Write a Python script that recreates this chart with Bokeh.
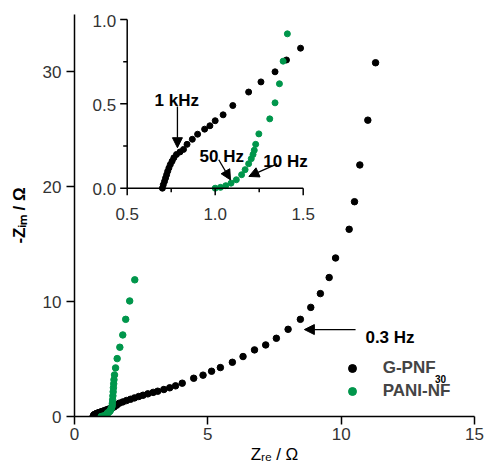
import math
from bokeh.plotting import figure
from bokeh.models import (Range1d, Label, Arrow, NormalHead, Legend, LegendItem,
                          ColumnDataSource, FixedTicker)
from bokeh.embed import file_html
from bokeh.resources import INLINE

# ---------------- data ----------------
gpnf_x = [0.70, 0.705, 0.712, 0.718, 0.724, 0.73, 0.737, 0.745, 0.755, 0.765, 0.78, 0.80,
          0.82, 0.84, 0.87, 0.90, 0.94, 0.97, 1.00, 1.045, 1.10, 1.19, 1.26, 1.34, 1.405,
          1.485, 1.58, 1.68, 1.81, 1.95, 2.10, 2.25, 2.41, 2.57, 2.75, 2.95, 3.12, 3.35,
          3.57, 3.79, 4.04, 4.47, 4.82, 5.14, 5.47, 5.92, 6.32, 6.75, 7.17, 7.57, 8.01,
          8.47, 8.86, 9.22, 9.55, 9.79, 10.30, 10.50, 10.70, 11.00, 11.29]
gpnf_y = [0.00, 0.02, 0.04, 0.06, 0.08, 0.10, 0.12, 0.14, 0.16, 0.18, 0.20, 0.215,
          0.23, 0.26, 0.29, 0.32, 0.35, 0.37, 0.40, 0.435, 0.49, 0.57, 0.63, 0.69, 0.76,
          0.83, 0.99, 1.16, 1.27, 1.39, 1.50, 1.62, 1.74, 1.85, 1.97, 2.10, 2.20, 2.35,
          2.50, 2.67, 2.90, 3.33, 3.60, 3.94, 4.26, 4.72, 5.22, 5.80, 6.23, 6.81, 7.59,
          8.46, 9.50, 10.70, 12.10, 13.80, 16.30, 18.70, 21.90, 25.80, 30.80]

pani_x = [1.00, 1.03, 1.06, 1.09, 1.12, 1.15, 1.17, 1.19, 1.205, 1.215, 1.222, 1.23,
          1.248, 1.31, 1.34, 1.365, 1.386, 1.41, 1.42, 1.43, 1.44, 1.45, 1.46, 1.47,
          1.48, 1.50, 1.54, 1.60, 1.70, 1.81, 1.92, 2.07, 2.26]
pani_y = [0.00, 0.005, 0.015, 0.03, 0.05, 0.08, 0.11, 0.145, 0.175, 0.20, 0.225, 0.26,
          0.322, 0.411, 0.506, 0.619, 0.753, 0.915, 1.15, 1.45, 1.80, 2.15, 2.50, 2.85,
          3.20, 3.62, 4.23, 5.04, 6.03, 7.10, 8.46, 10.06, 11.90]

series_names = ["G-PNF", "PANI-NF"]
series_colors = ["#000000", "#00964b"]

x_title = "Z\u1d63\u2091 / \u03a9"
y_title = "-Z\u1d62\u2098 / \u03a9"

main_xticks = [0, 5, 10, 15]
main_yticks = [0, 10, 20, 30]
inset_xticks = [0.5, 1.0, 1.5]
inset_yticks = [0.0, 0.5, 1.0]
inset_xminor = [0.75, 1.25]
inset_yminor = [0.25, 0.75]
inset_xtick_labels = ["0.5", "1.0", "1.5"]
inset_ytick_labels = ["0.0", "0.5", "1.0"]

# ---------------- layout ----------------
W, H = 485, 469
BL, BR, BT, BB = 74, 11, 14, 53
FW, FH = W - BL - BR, H - BT - BB

p = figure(width=W, height=H, output_backend="svg", toolbar_location=None,
           x_range=Range1d(0, 15), y_range=Range1d(0, 35),
           min_border_left=BL, min_border_right=BR, min_border_top=BT, min_border_bottom=BB)
p.outline_line_color = None
p.xgrid.visible = False
p.ygrid.visible = False
p.background_fill_color = "white"

p.xaxis.ticker = FixedTicker(ticks=main_xticks, minor_ticks=[])
p.yaxis.ticker = FixedTicker(ticks=main_yticks, minor_ticks=[])
for ax in (p.xaxis, p.yaxis):
    ax.axis_line_width = 1.5
    ax.major_tick_line_width = 1.5
    ax.major_tick_out = 8
    ax.major_tick_in = 0
    ax.minor_tick_out = 0
    ax.minor_tick_in = 0
    ax.major_label_text_font = "Liberation Sans"
    ax.major_label_text_font_size = "17px"
    ax.major_label_text_color = "#333333"
    ax.axis_label_text_font = "Liberation Sans"
    ax.axis_label_text_font_size = "17px"
    ax.axis_label_text_color = "black"
p.xaxis.major_label_standoff = 3
p.yaxis.major_label_standoff = 5
p.xaxis.axis_label = x_title
p.yaxis.axis_label = y_title
p.xaxis.axis_label_text_font_style = "normal"
p.yaxis.axis_label_text_font_style = "bold"
p.xaxis.axis_label_standoff = 2
p.yaxis.axis_label_standoff = 11

# inset placement (pixels inside the main frame)
IN_L, IN_R = 52.7, 228.7          # from frame left
IN_B, IN_T = 228.3, 397.0         # from frame bottom
sx = (inset_xticks[-1] - inset_xticks[0]) / (IN_R - IN_L)
sy = (inset_yticks[-1] - inset_yticks[0]) / (IN_T - IN_B)
ix0 = inset_xticks[0] - IN_L * sx
iy0 = inset_yticks[0] - IN_B * sy
p.extra_x_ranges = {"ix": Range1d(ix0, ix0 + FW * sx)}
p.extra_y_ranges = {"iy": Range1d(iy0, iy0 + FH * sy)}

# ---------------- main data ----------------
src_g = ColumnDataSource(dict(x=gpnf_x, y=gpnf_y))
src_p = ColumnDataSource(dict(x=pani_x, y=pani_y))
r_g = p.scatter("x", "y", source=src_g, size=6.5, color=series_colors[0])
r_p = p.scatter("x", "y", source=src_p, size=6.5, color=series_colors[1])

# ---------------- inset ----------------
xa, xb = inset_xticks[0], inset_xticks[-1]
ya, yb = inset_yticks[0], inset_yticks[-1]
kw = dict(x_range_name="ix", y_range_name="iy")


def in_box(xs, ys):
    pts = [(a, b) for a, b in zip(xs, ys) if xa <= a <= xb and ya <= b <= yb]
    return dict(x=[a for a, _ in pts], y=[b for _, b in pts])


p.scatter("x", "y", source=ColumnDataSource(in_box(gpnf_x, gpnf_y)), size=6,
          color=series_colors[0], **kw)
p.scatter("x", "y", source=ColumnDataSource(in_box(pani_x, pani_y)), size=6,
          color=series_colors[1], **kw)

p.segment(x0=[xa, xa], y0=[ya, ya], x1=[xb, xa], y1=[ya, yb], line_color="black",
          line_width=1.5, **kw)
p.ray(x=inset_xticks, y=[ya] * len(inset_xticks), length=7, angle=-math.pi / 2,
      length_units="screen", line_color="black", line_width=1.5, **kw)
p.ray(x=inset_xminor, y=[ya] * len(inset_xminor), length=4, angle=-math.pi / 2,
      length_units="screen", line_color="black", line_width=1.5, **kw)
p.ray(x=[xa] * len(inset_yticks), y=inset_yticks, length=7, angle=math.pi,
      length_units="screen", line_color="black", line_width=1.5, **kw)
p.ray(x=[xa] * len(inset_yminor), y=inset_yminor, length=4, angle=math.pi,
      length_units="screen", line_color="black", line_width=1.5, **kw)
p.text(x=inset_xticks, y=[ya] * len(inset_xticks), text=inset_xtick_labels,
       text_align="center", text_baseline="top", y_offset=20,
       text_font={"value": "Liberation Sans"}, text_font_size="17px",
       text_color="#333333", **kw)
p.text(x=[xa] * len(inset_yticks), y=inset_yticks, text=inset_ytick_labels,
       text_align="right", text_baseline="middle", x_offset=-11, y_offset=1,
       text_font={"value": "Liberation Sans"}, text_font_size="17px",
       text_color="#333333", **kw)

# ---------------- annotations ----------------
def lab(x, y, t, size="17px", bold=True):
    p.add_layout(Label(x=x, y=y, text=t, text_font="Liberation Sans",
                       text_font_size=size, text_font_style="bold" if bold else "normal",
                       text_baseline="alphabetic", text_align="left",
                       text_color="black"))


def arr(x0, y0, x1, y1):
    p.add_layout(Arrow(x_start=x0, y_start=y0, x_end=x1, y_end=y1, line_width=1.3,
                       line_color="black",
                       end=NormalHead(size=10, fill_color="black", line_color="black")))


lab(3.00, 27.55, "1 kHz")
arr(3.86, 27.0, 3.86, 23.4)
lab(4.69, 22.6, "50 Hz")
arr(5.41, 22.35, 5.85, 20.6)
lab(7.08, 22.2, "10 Hz")
arr(7.60, 22.0, 6.54, 20.9)
lab(10.91, 6.9, "0.3 Hz")
arr(10.54, 7.57, 8.62, 7.57)

# legend
legend = Legend(items=[LegendItem(label=series_names[0], renderers=[r_g]),
                       LegendItem(label=series_names[1], renderers=[r_p])],
                location=(267.7, 13.5), orientation="vertical",
                background_fill_alpha=0, border_line_color=None,
                padding=0, margin=0, spacing=0,
                glyph_width=20, glyph_height=20, label_height=23,
                label_standoff=21, label_text_font="Liberation Sans",
                label_text_font_size="17px", label_text_font_style="bold")
p.add_layout(legend, "center")
lab(13.52, 3.3, "30", size="10px")

open("out.html", "w").write(file_html(p, INLINE))
